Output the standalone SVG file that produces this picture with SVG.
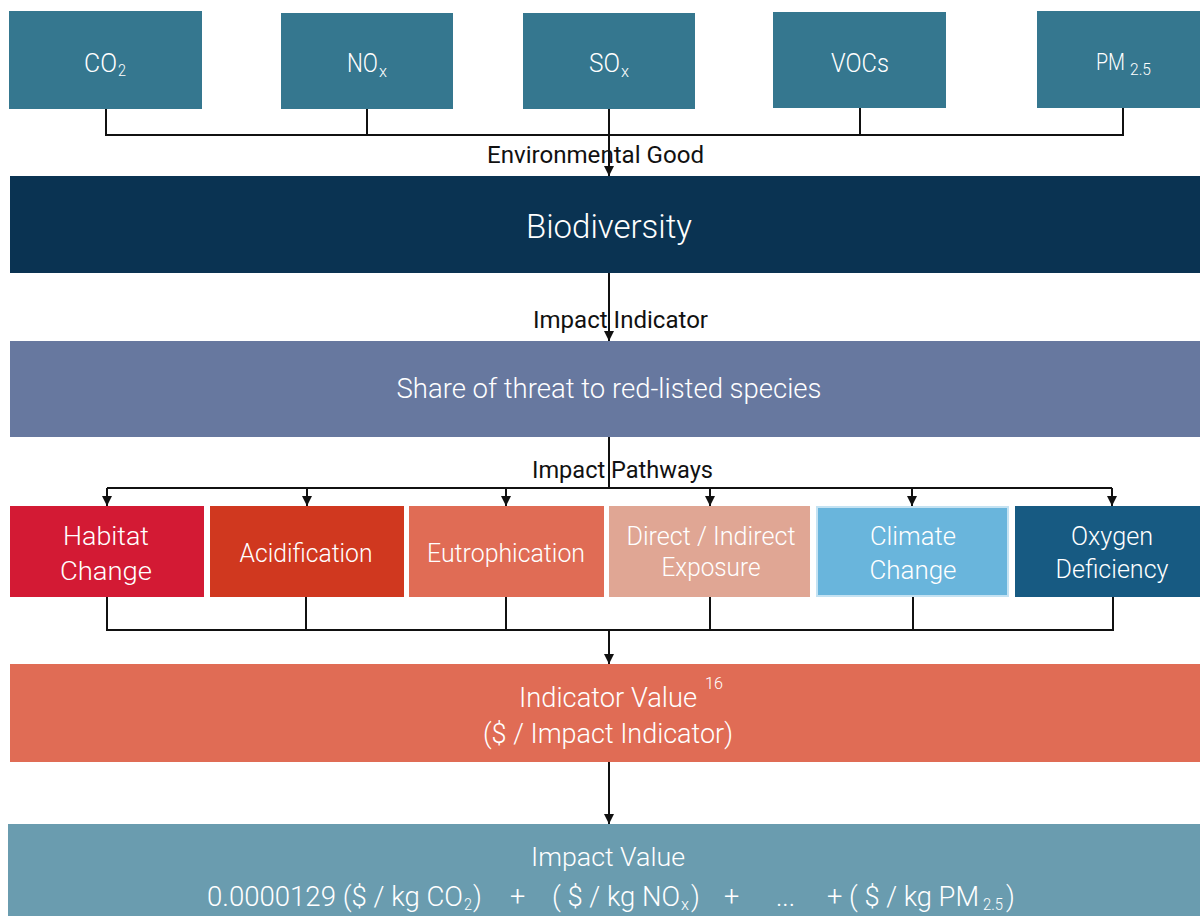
<svg xmlns="http://www.w3.org/2000/svg" width="1200" height="916" viewBox="0 0 1200 916">
  <style>
    text { font-family: Roboto, "Liberation Sans", sans-serif; }
    .w { fill: #ffffff; font-weight: 300; }
    .k { fill: #111111; }
    .f26 { font-size: 26px; }
    .f24 { font-size: 24px; }
    .sub { font-size: 17px; }
    .wire { fill: none; stroke: #111111; stroke-width: 2; }
    .emis { fill: #35778f; }
  </style>
  <defs>
    <marker id="head" markerUnits="userSpaceOnUse" markerWidth="11" markerHeight="11" refX="10" refY="5" orient="auto">
      <path d="M0,0 L10,5 L0,10 z" fill="#111111"/>
    </marker>
  </defs>

  <rect width="1200" height="916" fill="#ffffff"/>

  <!-- emission sources -->
  <g id="co2">
    <rect class="emis" x="9" y="11" width="193" height="98"/>
    <text class="w f26" x="84" y="72" textLength="33" lengthAdjust="spacingAndGlyphs">CO</text>
    <text class="w sub" x="118" y="76" textLength="8" lengthAdjust="spacingAndGlyphs">2</text>
  </g>
  <g id="nox">
    <rect class="emis" x="281" y="13" width="172" height="96"/>
    <text class="w f26" x="347" y="72" textLength="31" lengthAdjust="spacingAndGlyphs">NO</text>
    <text class="w sub" x="379" y="77" textLength="8" lengthAdjust="spacingAndGlyphs">x</text>
  </g>
  <g id="sox">
    <rect class="emis" x="523" y="13" width="172" height="96"/>
    <text class="w f26" x="589" y="72" textLength="31" lengthAdjust="spacingAndGlyphs">SO</text>
    <text class="w sub" x="621" y="77" textLength="8" lengthAdjust="spacingAndGlyphs">x</text>
  </g>
  <g id="vocs">
    <rect class="emis" x="773" y="12" width="173" height="96"/>
    <text class="w f26" x="831" y="72" textLength="58" lengthAdjust="spacingAndGlyphs">VOCs</text>
  </g>
  <g id="pm25">
    <rect class="emis" x="1037" y="11" width="163" height="97"/>
    <text class="w f24" x="1096" y="70" textLength="29" lengthAdjust="spacingAndGlyphs">PM</text>
    <text class="w sub" x="1130" y="75" textLength="21" lengthAdjust="spacingAndGlyphs">2.5</text>
  </g>

  <!-- environmental good -->
  <g id="biodiversity">
    <rect x="10" y="176" width="1190" height="97" fill="#0a3352"/>
    <text class="w" x="609" y="238" font-size="33" text-anchor="middle" textLength="166" lengthAdjust="spacingAndGlyphs">Biodiversity</text>
  </g>

  <!-- impact indicator -->
  <g id="share-threat">
    <rect x="10" y="341" width="1190" height="96" fill="#67789f"/>
    <text class="w" x="609" y="398" font-size="27" text-anchor="middle" textLength="425" lengthAdjust="spacingAndGlyphs">Share of threat to red-listed species</text>
  </g>

  <!-- impact pathways -->
  <g id="habitat-change">
    <rect x="10" y="506" width="194" height="91" fill="#d31a34"/>
    <text class="w f26" x="106" y="545" text-anchor="middle" textLength="86" lengthAdjust="spacingAndGlyphs">Habitat</text>
    <text class="w f26" x="106" y="580" text-anchor="middle" textLength="92" lengthAdjust="spacingAndGlyphs">Change</text>
  </g>
  <g id="acidification">
    <rect x="210" y="506" width="194" height="91" fill="#d0381f"/>
    <text class="w f26" x="306" y="562" text-anchor="middle" textLength="133" lengthAdjust="spacingAndGlyphs">Acidification</text>
  </g>
  <g id="eutrophication">
    <rect x="409" y="506" width="195" height="91" fill="#e06c55"/>
    <text class="w f26" x="506" y="562" text-anchor="middle" textLength="158" lengthAdjust="spacingAndGlyphs">Eutrophication</text>
  </g>
  <g id="exposure">
    <rect x="609" y="506" width="201" height="91" fill="#e0a694"/>
    <text class="w f26" x="711" y="545" text-anchor="middle" textLength="169" lengthAdjust="spacingAndGlyphs">Direct / Indirect</text>
    <text class="w f26" x="711" y="576" text-anchor="middle" textLength="99" lengthAdjust="spacingAndGlyphs">Exposure</text>
  </g>
  <g id="climate-change">
    <rect x="817" y="507" width="191" height="89" fill="#69b5dc" stroke="#c4e2f2" stroke-width="2"/>
    <text class="w f26" x="913" y="545" text-anchor="middle" textLength="86" lengthAdjust="spacingAndGlyphs">Climate</text>
    <text class="w f26" x="913" y="579" text-anchor="middle" textLength="87" lengthAdjust="spacingAndGlyphs">Change</text>
  </g>
  <g id="oxygen-deficiency">
    <rect x="1015" y="506" width="185" height="91" fill="#175a82"/>
    <text class="w f26" x="1112" y="545" text-anchor="middle" textLength="82" lengthAdjust="spacingAndGlyphs">Oxygen</text>
    <text class="w f26" x="1112" y="578" text-anchor="middle" textLength="113" lengthAdjust="spacingAndGlyphs">Deficiency</text>
  </g>

  <!-- indicator value -->
  <g id="indicator-value">
    <rect x="10" y="664" width="1190" height="98" fill="#e06c55"/>
    <text class="w" x="519" y="707" font-size="27" textLength="178" lengthAdjust="spacingAndGlyphs">Indicator Value</text>
    <text class="w sub" x="705" y="689" textLength="18" lengthAdjust="spacingAndGlyphs">16</text>
    <text class="w" x="608" y="743" font-size="27" text-anchor="middle" textLength="250" lengthAdjust="spacingAndGlyphs">($ / Impact Indicator)</text>
  </g>

  <!-- impact value -->
  <g id="impact-value">
    <rect x="8" y="824" width="1192" height="92" fill="#6a9caf"/>
    <text class="w f26" x="608" y="866" text-anchor="middle" textLength="154" lengthAdjust="spacingAndGlyphs">Impact Value</text>
    <text class="w" x="207" y="906" font-size="27" textLength="256" lengthAdjust="spacingAndGlyphs">0.0000129 ($ / kg CO</text>
    <text class="w sub" x="464" y="910" textLength="8" lengthAdjust="spacingAndGlyphs">2</text>
    <text class="w" x="473" y="906" font-size="27">)</text>
    <text class="w" x="510" y="906" font-size="27">+</text>
    <text class="w" x="552" y="906" font-size="27" textLength="128" lengthAdjust="spacingAndGlyphs">( $ / kg NO</text>
    <text class="w sub" x="681" y="910" textLength="8" lengthAdjust="spacingAndGlyphs">x</text>
    <text class="w" x="691" y="906" font-size="27">)</text>
    <text class="w" x="724" y="906" font-size="27">+</text>
    <text class="w" x="776" y="906" font-size="27" textLength="19" lengthAdjust="spacingAndGlyphs">...</text>
    <text class="w" x="827" y="906" font-size="27" textLength="152" lengthAdjust="spacingAndGlyphs">+ ( $ / kg PM</text>
    <text class="w sub" x="983" y="910" textLength="20" lengthAdjust="spacingAndGlyphs">2.5</text>
    <text class="w" x="1006" y="906" font-size="27">)</text>
  </g>

  <!-- connectors -->
  <g id="connectors">
    <path class="wire" d="M106,109 V135 H1123 V108"/>
    <path class="wire" d="M367,109 V135 M860,108 V135"/>
    <path class="wire" d="M609,109 V176" marker-end="url(#head)"/>
    <path class="wire" d="M609,273 V341" marker-end="url(#head)"/>
    <path class="wire" d="M609,437 V488"/>
    <path class="wire" d="M107,488 H1112"/>
    <path class="wire" d="M107,488 V506" marker-end="url(#head)"/>
    <path class="wire" d="M307,488 V506" marker-end="url(#head)"/>
    <path class="wire" d="M506,488 V506" marker-end="url(#head)"/>
    <path class="wire" d="M710,488 V506" marker-end="url(#head)"/>
    <path class="wire" d="M912,488 V506" marker-end="url(#head)"/>
    <path class="wire" d="M1112,488 V506" marker-end="url(#head)"/>
    <path class="wire" d="M107,597 V630 H1113 V597"/>
    <path class="wire" d="M306,597 V630 M506,597 V630 M710,597 V630 M913,597 V630"/>
    <path class="wire" d="M609,630 V664" marker-end="url(#head)"/>
    <path class="wire" d="M609,762 V824" marker-end="url(#head)"/>
  </g>

  <!-- connector labels -->
  <text class="k f24" x="487" y="163" textLength="217" lengthAdjust="spacingAndGlyphs">Environmental Good</text>
  <text class="k f24" x="533" y="328" textLength="175" lengthAdjust="spacingAndGlyphs">Impact Indicator</text>
  <text class="k f24" x="532" y="478" textLength="181" lengthAdjust="spacingAndGlyphs">Impact Pathways</text>
</svg>
